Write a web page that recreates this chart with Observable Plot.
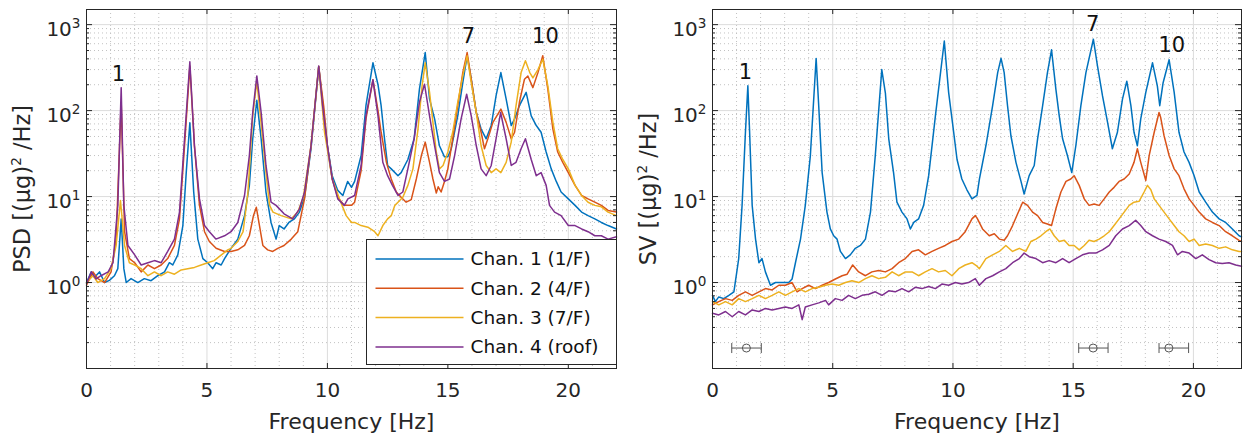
<!DOCTYPE html>
<html>
<head>
<meta charset="utf-8">
<script src="https://cdn.jsdelivr.net/npm/d3@7"></script>
<script src="https://cdn.jsdelivr.net/npm/@observablehq/plot@0.6"></script>
<style>
  html, body { margin: 0; padding: 0; background: #fff; }
  #wrap { position: relative; width: 1245px; height: 438px; font-family: "DejaVu Sans", sans-serif; }
  #left { position: absolute; left: 0; top: 0; }
  #right { position: absolute; left: 622px; top: 0; }
  svg { overflow: visible; }
</style>
</head>
<body>
<div id="wrap"><div id="left"></div><div id="right"></div></div>
<script>
// ---------- data ----------
const xTickValues = [0, 5, 10, 15, 20];
const yTickValues = [1, 10, 100, 1000];
const channelNames = ["Chan. 1 (1/F)", "Chan. 2 (4/F)", "Chan. 3 (7/F)", "Chan. 4 (roof)"];
const channelColors = ["#0072BD", "#D95319", "#EDB120", "#7E2F8E"];

// PSD panel (frequency Hz, value)
const psdCh1 = [[0,1.0],[0.2,1.33],[0.33,1.15],[0.54,1.33],[0.75,1.0],[0.95,1.06],[1.16,1.2],[1.3,1.45],[1.44,5.5],[1.55,1.45],[1.65,1.0],[1.85,1.11],[2.13,1.0],[2.4,1.11],[2.68,1.05],[2.96,1.2],[3.24,1.33],[3.44,1.7],[3.58,1.6],[3.79,2.1],[4.0,4.6],[4.14,19],[4.29,72],[4.45,11.3],[4.62,3.2],[4.83,1.9],[5.03,1.7],[5.24,1.45],[5.38,1.7],[5.59,1.6],[5.73,1.9],[6.0,2.5],[6.28,3.2],[6.56,6],[6.76,13.5],[6.9,47],[7.07,132],[7.25,47],[7.45,11.3],[7.66,5],[7.87,3.2],[8.0,4.6],[8.2,4.2],[8.4,5],[8.63,5.5],[8.84,6.6],[9.05,9.8],[9.32,36],[9.64,320],[9.85,95],[10.0,39],[10.2,17.5],[10.43,11.8],[10.64,10.3],[10.84,15],[11.0,12.8],[11.13,15],[11.4,30],[11.6,114],[11.89,360],[12.1,200],[12.23,114],[12.37,47],[12.5,23],[12.65,21],[12.93,17.5],[13.06,19],[13.34,27],[13.6,47],[13.82,178],[14.06,473],[14.24,136],[14.45,80],[14.65,39],[14.86,29],[15.0,29],[15.14,36],[15.41,87],[15.62,211],[15.8,434],[15.97,232],[16.18,95],[16.38,61],[16.59,47],[16.8,67],[17.0,148],[17.2,277],[17.42,136],[17.63,67],[17.77,80],[17.97,114],[18.25,163],[18.46,87],[18.67,67],[18.87,56],[19.08,33],[19.29,21],[19.5,15],[19.7,11.3],[20.0,9.4],[20.28,7.9],[20.55,6.6],[20.82,6],[21.1,5.5],[21.37,5],[21.65,4.6],[22.0,4.2]];
const psdCh2 = [[0,0.93],[0.27,1.33],[0.47,1.11],[0.75,1.0],[1.02,1.33],[1.23,3.2],[1.44,125],[1.58,3.9],[1.78,1.9],[2.0,1.7],[2.27,1.33],[2.55,1.6],[2.82,1.45],[3.1,1.6],[3.37,1.9],[3.65,2.7],[3.86,5.5],[4.07,39],[4.29,330],[4.48,39],[4.69,7.9],[4.9,3.9],[5.1,3.0],[5.38,2.5],[5.73,2.3],[6.0,2.3],[6.28,2.4],[6.56,2.7],[6.76,3.5],[6.93,6],[7.05,7.5],[7.18,4.6],[7.32,2.7],[7.52,2.4],[7.73,2.3],[7.94,2.5],[8.2,2.7],[8.5,3.2],[8.77,3.9],[9.05,9.4],[9.32,39],[9.64,325],[9.85,110],[10.0,39],[10.2,16],[10.43,9.8],[10.7,7.9],[11.0,7.9],[11.13,8.6],[11.4,20],[11.6,80],[11.89,228],[12.1,100],[12.23,56],[12.45,25],[12.65,16],[12.86,11.3],[13.06,9.8],[13.27,8.6],[13.48,9.2],[13.69,16],[13.9,30],[14.06,43],[14.24,25],[14.38,16],[14.52,11],[14.6,13],[14.72,11.3],[14.86,15],[15.0,21],[15.2,47],[15.41,114],[15.62,277],[15.8,473],[15.97,232],[16.18,95],[16.38,56],[16.52,36],[16.66,47],[16.87,73],[17.2,104],[17.42,73],[17.63,47],[17.77,56],[17.97,125],[18.18,232],[18.32,253],[18.53,185],[18.74,277],[18.94,434],[19.15,178],[19.36,61],[19.56,33],[19.77,25],[20.0,19],[20.28,13.5],[20.55,10.3],[20.82,9.4],[21.1,8.6],[21.37,7.9],[21.65,6.9],[22.0,6.6]];
const psdCh3 = [[0,1.0],[0.27,1.2],[0.47,1.0],[0.75,1.11],[1.02,1.45],[1.23,2.7],[1.41,9],[1.58,2.7],[1.78,1.7],[2.0,1.6],[2.27,1.45],[2.55,1.2],[2.82,1.33],[3.1,1.2],[3.37,1.33],[3.65,1.25],[3.93,1.4],[4.2,1.45],[4.48,1.5],[4.76,1.6],[5.03,1.7],[5.3,1.8],[5.6,2.1],[5.86,2.4],[6.0,2.5],[6.28,3.0],[6.5,3.9],[6.7,11],[6.9,87],[7.07,220],[7.25,70],[7.45,19],[7.6,7.9],[7.74,6.6],[8.08,6],[8.5,5.5],[8.77,6.6],[9.0,9.8],[9.32,39],[9.64,325],[9.88,56],[10.2,16],[10.5,9.4],[10.78,6],[11.0,5.0],[11.13,5],[11.4,4.6],[11.68,4.4],[11.96,3.9],[12.1,3.5],[12.3,4.6],[12.5,5.5],[12.65,6],[12.8,7.9],[12.93,8.6],[13.13,9.8],[13.34,13.5],[13.55,21],[13.76,61],[13.93,194],[14.06,360],[14.24,163],[14.38,73],[14.52,33],[14.65,21],[14.8,23],[15.0,33],[15.2,56],[15.41,125],[15.62,253],[15.8,434],[15.97,211],[16.18,95],[16.38,39],[16.59,23],[16.8,19],[17.0,21],[17.2,19],[17.42,25],[17.63,43],[17.83,114],[18.04,277],[18.22,380],[18.4,277],[18.53,240],[18.74,300],[18.94,396],[19.15,194],[19.36,73],[19.56,36],[19.77,27],[20.0,21],[20.28,13.5],[20.55,10.3],[20.82,8.6],[21.1,7.9],[21.37,7.6],[21.65,6.6],[22.0,6.0]];
const psdCh4 = [[0,0.97],[0.2,1.33],[0.4,1.1],[0.6,1.2],[0.9,1.33],[1.1,1.7],[1.3,7.9],[1.44,185],[1.55,7.9],[1.72,2.7],[2.0,2.1],[2.27,1.6],[2.55,1.7],[2.82,1.8],[3.1,1.7],[3.37,2.3],[3.65,3.2],[3.86,6.6],[4.07,47],[4.29,370],[4.48,39],[4.69,9.4],[4.9,4.6],[5.1,3.9],[5.37,3.2],[5.73,3.5],[6.0,3.9],[6.28,5],[6.56,10.3],[6.76,30],[6.9,95],[7.07,253],[7.25,95],[7.45,23],[7.66,8.6],[7.87,7.9],[8.2,6.3],[8.56,5.5],[8.84,7.2],[9.05,11.3],[9.32,39],[9.64,331],[9.8,114],[10.0,39],[10.2,16],[10.43,9.4],[10.7,7.9],[10.85,9.4],[11.13,10.3],[11.4,23],[11.6,87],[11.89,228],[12.1,87],[12.3,25],[12.5,17.5],[12.7,13.5],[12.93,10.3],[13.13,11.3],[13.34,21],[13.6,47],[13.82,125],[14.03,203],[14.24,87],[14.45,39],[14.65,19],[14.86,15],[15.07,16],[15.28,30],[15.55,80],[15.78,155],[15.97,87],[16.18,39],[16.38,21],[16.59,17.5],[16.8,23],[17.0,47],[17.19,95],[17.42,47],[17.63,23],[17.83,25],[18.04,36],[18.22,47],[18.46,27],[18.67,17.5],[18.87,19],[19.08,13.5],[19.22,7.9],[19.43,6.6],[19.7,6],[20.0,4.6],[20.28,4.6],[20.55,4.2],[20.82,3.9],[21.1,3.5],[21.37,3.5],[21.65,3.2],[22.0,3.4]];

// SV panel (frequency Hz, value)
const svCh1 = [[0,0.71],[0.12,0.6],[0.26,0.68],[0.47,0.65],[0.68,0.71],[0.89,0.78],[1.09,1.9],[1.23,7.9],[1.37,56],[1.47,194],[1.54,60],[1.65,7.9],[1.79,3.2],[1.93,1.7],[2.06,1.9],[2.2,1.33],[2.41,0.93],[2.62,1.0],[2.9,1.0],[3.17,1.0],[3.31,1.1],[3.45,1.7],[3.66,3.2],[3.86,7.9],[4.07,30],[4.31,405],[4.42,110],[4.56,19],[4.76,6.6],[4.9,4.2],[5.04,3.5],[5.18,3.2],[5.32,2.3],[5.53,1.9],[5.73,2.1],[5.94,2.5],[6.15,2.7],[6.36,3.2],[6.57,6.6],[6.77,30],[7.04,300],[7.19,160],[7.33,47],[7.53,19],[7.67,8.6],[7.88,6.6],[8.09,5.5],[8.23,4.2],[8.37,5],[8.57,5.5],[8.78,7.9],[8.99,17.5],[9.27,87],[9.64,645],[9.82,163],[10.03,56],[10.17,27],[10.37,16],[10.58,12],[10.79,9.4],[11.0,10.3],[11.1,16],[11.37,39],[11.65,114],[11.86,277],[12.0,405],[12.13,277],[12.27,114],[12.41,51],[12.62,25],[12.83,15],[12.96,10.7],[13.17,17.5],[13.38,23],[13.52,47],[13.73,114],[13.93,277],[14.1,510],[14.28,178],[14.42,87],[14.56,47],[14.76,30],[14.94,19],[15.11,39],[15.32,114],[15.53,277],[15.84,676],[16.01,331],[16.22,148],[16.43,73],[16.63,36],[16.84,56],[17.05,136],[17.23,220],[17.4,114],[17.53,56],[17.67,39],[17.81,80],[18.02,163],[18.3,360],[18.5,194],[18.6,114],[18.74,211],[18.99,390],[19.2,163],[19.4,56],[19.61,33],[19.82,25],[20.03,17.5],[20.24,11.3],[20.51,8.6],[20.79,6.6],[21.07,5.5],[21.34,5],[21.62,4.2],[21.9,3.5],[22.0,3.4]];
const svCh2 = [[0,0.55],[0.26,0.6],[0.54,0.65],[0.82,0.62],[1.09,0.71],[1.37,0.78],[1.65,0.71],[1.93,0.78],[2.2,0.85],[2.48,0.82],[2.76,0.93],[3.03,0.93],[3.31,1.0],[3.52,0.78],[3.73,0.85],[4.0,0.93],[4.28,0.85],[4.56,0.93],[4.83,1.0],[5.11,1.1],[5.39,1.2],[5.6,1.25],[5.83,1.6],[6.08,1.33],[6.36,1.2],[6.63,1.33],[6.91,1.38],[7.19,1.33],[7.47,1.45],[7.74,1.7],[8.02,1.9],[8.3,2.3],[8.57,2.4],[8.85,2.1],[9.13,2.3],[9.4,2.5],[9.68,2.7],[9.96,3.0],[10.24,3.2],[10.51,3.9],[10.79,5.5],[10.93,6],[11.02,5.5],[11.23,4.2],[11.51,3.5],[11.72,3.7],[11.93,3.2],[12.13,3.1],[12.27,3.5],[12.48,4.6],[12.69,6.3],[12.9,8.6],[13.1,7.9],[13.31,6.6],[13.52,6],[13.73,5],[13.93,4.8],[14.1,4.6],[14.28,7.2],[14.49,11.3],[14.7,15],[14.9,16],[15.04,17.5],[15.25,13.5],[15.46,9.4],[15.66,7.9],[15.87,8.2],[16.08,7.9],[16.29,9.4],[16.5,11.3],[16.7,12.8],[16.91,15],[17.12,16],[17.33,18.3],[17.53,25],[17.67,36],[17.81,25],[18.02,15.4],[18.16,30],[18.37,56],[18.57,95],[18.64,83],[18.78,51],[18.99,30],[19.2,21],[19.4,17.5],[19.61,12.3],[19.82,9.4],[20.03,7.9],[20.24,6.6],[20.51,5.5],[20.79,5],[21.07,4.6],[21.34,3.9],[21.62,3.5],[21.9,3.1],[22.0,3.0]];
const svCh3 = [[0,0.6],[0.26,0.55],[0.54,0.6],[0.82,0.55],[1.09,0.65],[1.37,0.6],[1.65,0.65],[1.93,0.71],[2.2,0.65],[2.48,0.71],[2.76,0.78],[3.03,0.71],[3.31,0.78],[3.59,0.85],[3.86,0.78],[4.14,0.85],[4.42,0.88],[4.7,0.93],[4.97,0.96],[5.25,0.93],[5.53,1.0],[5.8,1.05],[6.08,1.0],[6.36,1.11],[6.63,1.2],[6.91,1.11],[7.19,1.15],[7.47,1.33],[7.74,1.2],[8.02,1.33],[8.3,1.33],[8.57,1.2],[8.85,1.33],[9.13,1.45],[9.4,1.33],[9.68,1.38],[9.96,1.2],[10.24,1.45],[10.51,1.6],[10.79,1.7],[11.0,1.55],[11.1,1.45],[11.37,1.9],[11.65,2.1],[11.93,2.3],[12.2,2.7],[12.48,2.3],[12.76,2.5],[13.03,2.3],[13.24,3.0],[13.45,3.2],[13.66,3.5],[13.86,3.9],[14.03,4.2],[14.21,3.5],[14.42,3.0],[14.63,3.1],[14.83,2.7],[15.04,2.7],[15.25,2.4],[15.46,2.7],[15.66,3.1],[15.87,3.0],[16.08,3.2],[16.29,3.5],[16.5,3.9],[16.7,4.6],[16.91,5.5],[17.12,6.6],[17.33,7.9],[17.53,8.6],[17.74,8.8],[17.95,11.3],[18.09,13.5],[18.23,12],[18.37,9.4],[18.57,7.9],[18.78,6.6],[18.99,5.5],[19.2,4.6],[19.4,3.9],[19.61,3.5],[19.82,3.0],[20.03,3.2],[20.24,2.7],[20.51,2.8],[20.79,2.7],[21.07,2.5],[21.34,2.6],[21.62,2.4],[21.9,2.3],[22.0,2.3]];
const svCh4 = [[0,0.44],[0.26,0.42],[0.54,0.46],[0.82,0.4],[1.09,0.46],[1.37,0.42],[1.65,0.48],[1.93,0.46],[2.2,0.5],[2.48,0.48],[2.76,0.5],[3.03,0.52],[3.31,0.5],[3.59,0.55],[3.73,0.37],[3.86,0.52],[4.14,0.55],[4.42,0.58],[4.7,0.62],[4.83,0.55],[5.11,0.65],[5.39,0.62],[5.66,0.71],[5.94,0.65],[6.22,0.71],[6.5,0.73],[6.77,0.78],[7.05,0.71],[7.33,0.8],[7.6,0.78],[7.88,0.85],[8.16,0.78],[8.43,0.88],[8.71,0.85],[8.99,0.9],[9.27,0.85],[9.54,0.96],[9.82,0.93],[10.1,1.0],[10.37,0.96],[10.65,1.0],[10.93,1.11],[11.1,0.93],[11.37,1.11],[11.65,1.2],[11.93,1.33],[12.2,1.45],[12.48,1.7],[12.76,1.9],[12.96,2.2],[13.17,2.0],[13.45,1.9],[13.73,1.7],[14.0,1.8],[14.28,1.7],[14.56,1.9],[14.83,1.7],[15.11,1.9],[15.39,2.1],[15.66,2.2],[15.94,2.2],[16.22,2.4],[16.5,2.7],[16.77,3.5],[17.05,4.2],[17.33,4.6],[17.6,5.3],[17.81,4.6],[18.02,3.9],[18.3,3.5],[18.57,3.2],[18.85,3.0],[19.13,2.7],[19.34,2.1],[19.54,2.3],[19.82,2.2],[20.1,1.9],[20.37,2.1],[20.65,1.85],[20.93,1.7],[21.2,1.66],[21.48,1.7],[21.76,1.6],[22.0,1.55]];

// mode number labels
const psdPeakText = ["1", "7", "10"];
const psdPeakF = [1.33, 15.85, 19.05];
const psdPeakV = [266, 735, 735];
const svPeakText = ["1", "7", "10"];
const svPeakF = [1.37, 15.81, 19.1];
const svPeakV = [276, 1000, 573];

// frequency uncertainty bars (SV panel)
const bandCenter = [1.41, 15.83, 18.98];
const bandLow = [0.80, 15.23, 18.57];
const bandHigh = [2.03, 16.45, 19.80];
const bandLevel = [0.173, 0.173, 0.173];

// ---------- drawing ----------
const FONT = "DejaVu Sans, sans-serif";
const AXIS = "#262626";
const H = 438, MT = 9, MB = 70;
const xMinor = d3.range(0, 23).filter(d => d % 5 !== 0);
const yMinor = [0.1, 1, 10, 100].flatMap(d => d3.range(2, 10).map(k => k * d));

const capSymbol = { draw(ctx) { ctx.moveTo(0, -5); ctx.lineTo(0, 5); } };

function supify(svg) {
  svg.querySelectorAll("text").forEach(t => {
    const s = t.textContent;
    const m = s.match(/^(.*?)\^(\S+)(.*)$/);
    if (!m) return;
    const fs = parseFloat(getComputedStyle(t).fontSize) || 20;
    const shift = fs * 0.42;
    while (t.firstChild) t.removeChild(t.firstChild);
    t.appendChild(document.createTextNode(m[1]));
    const sup = document.createElementNS("http://www.w3.org/2000/svg", "tspan");
    sup.setAttribute("font-size", (fs * 0.68) + "px");
    sup.setAttribute("dy", (-shift) + "px");
    sup.textContent = m[2];
    t.appendChild(sup);
    if (m[3]) {
      const rest = document.createElementNS("http://www.w3.org/2000/svg", "tspan");
      rest.setAttribute("dy", shift + "px");
      rest.textContent = m[3];
      t.appendChild(rest);
    }
  });
}

function panel({series, yLabel, peakText, peakF, peakV, bands, width, marginLeft, marginRight}) {
  const rows = series.flatMap((s, i) => s.map(([f, v]) => ({f, v, ch: channelNames[i]})));
  const frameW = width - marginLeft - marginRight;
  const frameH = H - MT - MB;
  const marks = [
    Plot.ruleY(yMinor, {stroke: "#c2c2c2", strokeDasharray: "1,3"}),
    Plot.ruleX(xMinor, {stroke: "#c2c2c2", strokeDasharray: "1,3"}),
    Plot.ruleY(yTickValues, {stroke: "#dcdcdc"}),
    Plot.ruleX(xTickValues, {stroke: "#dcdcdc"}),
    Plot.line(rows, {x: "f", y: "v", z: "ch", stroke: "ch", strokeWidth: 1.5, strokeLinejoin: "round"}),
    Plot.text(peakText, {x: (d, i) => peakF[i], y: (d, i) => peakV[i], fontSize: 21, fill: "#111"})
  ];
  if (bands) {
    const idx = d3.range(bandCenter.length);
    marks.push(
      Plot.link(idx, {x1: i => bandLow[i], x2: i => bandHigh[i], y1: i => bandLevel[i], y2: i => bandLevel[i], stroke: "#555", strokeWidth: 1}),
      Plot.dot(idx, {x: i => bandLow[i], y: i => bandLevel[i], symbol: capSymbol, r: 5, stroke: "#555", strokeWidth: 1}),
      Plot.dot(idx, {x: i => bandHigh[i], y: i => bandLevel[i], symbol: capSymbol, r: 5, stroke: "#555", strokeWidth: 1}),
      Plot.dot(idx, {x: i => bandCenter[i], y: i => bandLevel[i], r: 4, stroke: "#555", fill: "none", strokeWidth: 1})
    );
  }
  marks.push(
    Plot.ruleX(xTickValues, {insetTop: frameH - 5, stroke: AXIS}),
    Plot.ruleX(xTickValues, {insetBottom: frameH - 5, stroke: AXIS}),
    Plot.ruleY(yTickValues, {insetRight: frameW - 6, stroke: AXIS}),
    Plot.ruleY(yTickValues, {insetLeft: frameW - 6, stroke: AXIS}),
    Plot.ruleY(yMinor, {insetRight: frameW - 3, stroke: AXIS}),
    Plot.ruleY(yMinor, {insetLeft: frameW - 3, stroke: AXIS}),
    Plot.frame({stroke: AXIS, strokeWidth: 1}),
    Plot.axisX({ticks: xTickValues, tickSize: 0, tickPadding: 14, tickFormat: d => String(d), label: null, fill: AXIS}),
    Plot.axisY({ticks: yTickValues, tickSize: 0, tickPadding: 6, dy: 5, tickFormat: d => "10^" + Math.round(Math.log10(d)), label: null, fill: AXIS}),
    Plot.text(["Frequency [Hz]"], {frameAnchor: "bottom", dy: 53, lineAnchor: "middle", textAnchor: "middle", fontSize: 22, fill: AXIS}),
    Plot.text([yLabel], {frameAnchor: "left", dx: -64, rotate: -90, lineAnchor: "middle", textAnchor: "middle", fontSize: 22.5, fill: AXIS})
  );
  const svg = Plot.plot({
    width, height: H, marginTop: MT, marginBottom: MB, marginLeft, marginRight,
    style: {fontFamily: FONT, fontSize: "20px", background: "transparent", overflow: "visible"},
    x: {domain: [0, 22]},
    y: {type: "log", domain: [0.1, 1500]},
    color: {domain: channelNames, range: channelColors},
    marks
  });
  supify(svg);
  return svg;
}

const leftSvg = panel({
  series: [psdCh1, psdCh2, psdCh3, psdCh4], yLabel: "PSD [(μg)^2 /Hz]",
  peakText: psdPeakText, peakF: psdPeakF, peakV: psdPeakV, bands: false,
  width: 622, marginLeft: 86, marginRight: 6
});
document.getElementById("left").appendChild(leftSvg);

const rightSvg = panel({
  series: [svCh1, svCh2, svCh3, svCh4], yLabel: "SV [(μg)^2 /Hz]",
  peakText: svPeakText, peakF: svPeakF, peakV: svPeakV, bands: true,
  width: 623, marginLeft: 90, marginRight: 4
});
document.getElementById("right").appendChild(rightSvg);

// legend (left panel, lower right)
const NS = "http://www.w3.org/2000/svg";
const leg = document.createElementNS(NS, "svg");
leg.setAttribute("width", 251); leg.setAttribute("height", 126);
leg.style.cssText = "position:absolute;left:365.5px;top:238.5px;overflow:visible";
const box = document.createElementNS(NS, "rect");
box.setAttribute("x", 0.5); box.setAttribute("y", 0.5); box.setAttribute("width", 250); box.setAttribute("height", 125);
box.setAttribute("fill", "#fff"); box.setAttribute("stroke", AXIS);
leg.appendChild(box);
channelNames.forEach((name, i) => {
  const y = 20 + i * 29.3;
  const ln = document.createElementNS(NS, "line");
  ln.setAttribute("x1", 9.5); ln.setAttribute("x2", 97.5); ln.setAttribute("y1", y); ln.setAttribute("y2", y);
  ln.setAttribute("stroke", channelColors[i]); ln.setAttribute("stroke-width", 1.5);
  leg.appendChild(ln);
  const tx = document.createElementNS(NS, "text");
  tx.setAttribute("x", 104.5); tx.setAttribute("y", y); tx.setAttribute("dy", "0.35em");
  tx.setAttribute("font-family", FONT); tx.setAttribute("font-size", 18.5); tx.setAttribute("fill", "#111");
  tx.textContent = name;
  leg.appendChild(tx);
});
document.getElementById("left").appendChild(leg);
</script>
</body>
</html>
